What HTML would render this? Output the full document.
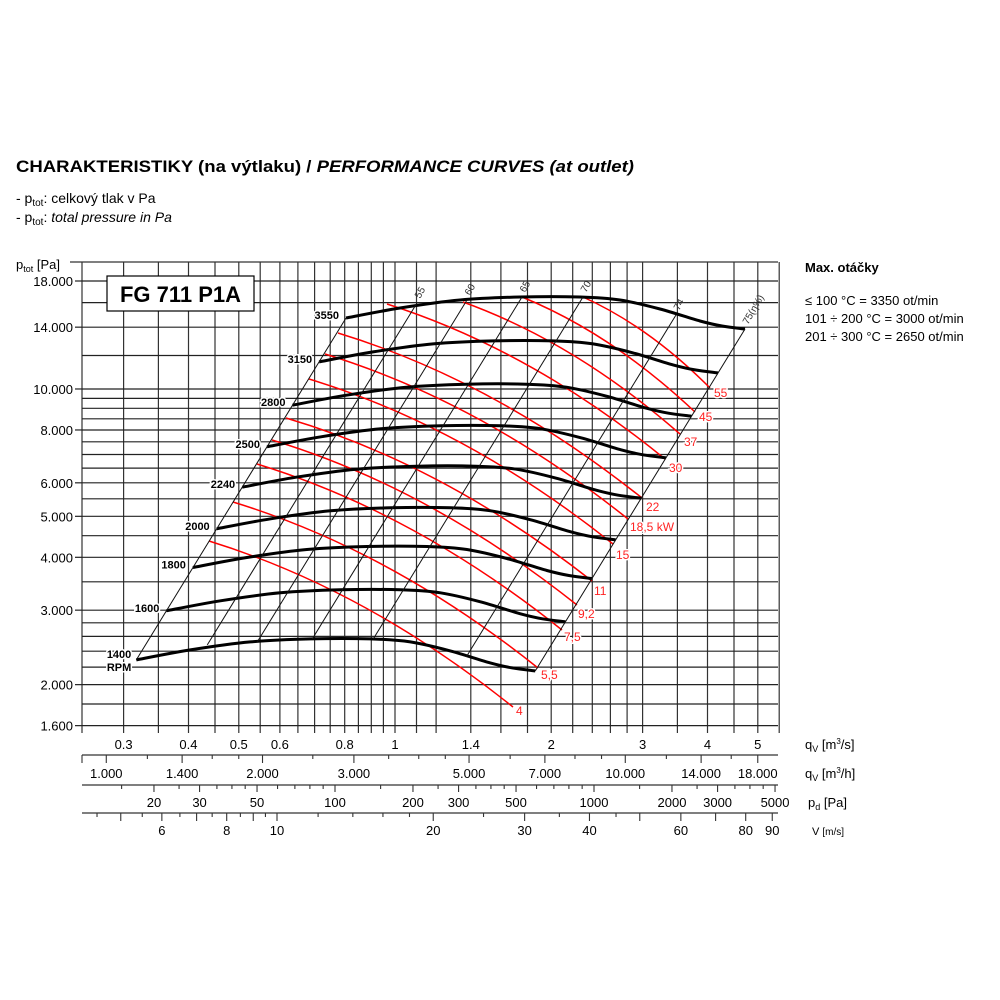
<!DOCTYPE html>
<html><head><meta charset="utf-8"><style>
html,body{margin:0;padding:0;background:#fff;}
svg{display:block;font-family:"Liberation Sans",Arial,sans-serif;}
</style></head><body>
<svg id="s" width="1000" height="1000" viewBox="0 0 1000 1000" xmlns="http://www.w3.org/2000/svg">
<rect width="1000" height="1000" fill="#fff"/>
<text x="16" y="172" font-size="17" font-weight="bold" textLength="618" lengthAdjust="spacingAndGlyphs">CHARAKTERISTIKY (na výtlaku) / <tspan font-style="italic">PERFORMANCE CURVES (at outlet)</tspan></text>
<text x="16" y="203" font-size="14">- p<tspan font-size="10" dy="3">tot</tspan><tspan dy="-3">: celkový tlak v Pa</tspan></text>
<text x="16" y="222" font-size="14">- p<tspan font-size="10" dy="3">tot</tspan><tspan dy="-3">: </tspan><tspan font-style="italic">total pressure in Pa</tspan></text>
<text x="16" y="269" font-size="13">p<tspan font-size="9" dy="3">tot</tspan><tspan dy="-3"> [Pa]</tspan></text>
<text x="805" y="272" font-size="13" font-weight="bold">Max. otáčky</text>
<text x="805" y="305" font-size="13">≤ 100 °C = 3350 ot/min</text>
<text x="805" y="323" font-size="13">101 ÷ 200 °C = 3000 ot/min</text>
<text x="805" y="341" font-size="13">201 ÷ 300 °C = 2650 ot/min</text>
<g id="g"></g>
</svg>
<script>
var g=document.getElementById('g'),h='';
function X(q){return 395+519*Math.log10(q);}
function Y(p){return 281+423*Math.log10(18000/p);}
function L(x1,y1,x2,y2,c,w){h+='<line x1="'+x1+'" y1="'+y1+'" x2="'+x2+'" y2="'+y2+'" stroke="'+(c||'#222')+'" stroke-width="'+(w||1)+'"/>';}
function T(x,y,s,sz,anc,ex){h+='<text x="'+x+'" y="'+y+'" font-size="'+sz+'" text-anchor="'+(anc||'middle')+'" '+(ex||'')+'>'+s+'</text>';}
// vertical grid
var qs=[];for(var q=0.3;q<1.001;q+=0.05)qs.push(+q.toFixed(2));
qs=qs.concat([1.1,1.2,1.4,1.6,1.8,2,2.2,2.4,2.6,2.8,3,3.5,4,4.5,5,5.5]);
qs.forEach(function(q){var x=X(q).toFixed(1);L(x,262,x,733,'#333',1.2);});
L(82,262,82,733,'#333',1.2);
// horizontal grid
var ps=[18000,16000,14000,12000,10000,9500,9000,8500,8000,7500,7000,6500,6000,5500,5000,4500,4000,3500,3000,2800,2600,2400,2200,2000,1800,1600];
ps.forEach(function(p){var y=Y(p).toFixed(1);L(82,y,778,y,'#222',1.2);});
L(70,262,778,262,'#333',1.2);
var lab=[[18000,'18.000'],[14000,'14.000'],[10000,'10.000'],[8000,'8.000'],[6000,'6.000'],[5000,'5.000'],[4000,'4.000'],[3000,'3.000'],[2000,'2.000'],[1600,'1.600']];
lab.forEach(function(a){var y=Y(a[0]);L(75,y,82,y,'#222',1.2);T(73,y+5,a[1],13,'end');});
// x labels m3/s
[[0.3,'0.3'],[0.4,'0.4'],[0.5,'0.5'],[0.6,'0.6'],[0.8,'0.8'],[1,'1'],[1.4,'1.4'],[2,'2'],[3,'3'],[4,'4'],[5,'5']].forEach(function(a){T(X(a[0]),749,a[1],13);});
// scale lines
L(82,755,778,755,'#333',1.3);L(82,785,778,785,'#333',1.3);L(82,813,778,813,'#333',1.3);
[1000,1200,1400,1600,1800,2000,2500,3000,3500,4000,4500,5000,6000,7000,8000,9000,10000,12000,14000,16000,18000].forEach(function(v){var x=X(v/3600);var big=[1000,1400,2000,3000,5000,7000,10000,14000,18000].indexOf(v)>=0;L(x,755,x,big?763:759,'#333',1.1);});
L(82,755,82,763,'#333',1.1);
[['1.000',1000],['1.400',1400],['2.000',2000],['3.000',3000],['5.000',5000],['7.000',7000],['10.000',10000],['14.000',14000],['18.000',18000]].forEach(function(a){T(X(a[1]/3600),778,a[0],13);});
function PX(p){return -183+259*Math.log10(p);}
[15,20,25,30,35,40,45,50,60,70,80,90,100,150,200,250,300,350,400,450,500,600,700,800,900,1000,1500,2000,2500,3000,3500,4000,4500,5000].forEach(function(p){var x=PX(p);if(x<82)return;var big=[20,30,50,100,200,300,500,1000,2000,3000,5000].indexOf(p)>=0;L(x,785,x,big?792:789,'#333',1.1);});
[20,30,50,100,200,300,500,1000,2000,3000,5000].forEach(function(p){T(PX(p),807,p,13);});
function VX(v){return 277+519*Math.log10(v/10);}
[4.5,5,5.5,6,6.5,7,7.5,8,8.5,9,9.5,10,12,14,16,18,20,25,30,35,40,45,50,60,70,80,90].forEach(function(v){var x=VX(v);if(x<82)return;var big=[5,6,7,8,9,10,20,30,40,50,60,70,80,90].indexOf(v)>=0;L(x,813,x,big?821:817,'#333',1.1);});
[6,8,10,20,30,40,60,80,90].forEach(function(v){T(VX(v),835,v,13);});
// unit labels
T(805,749,'q<tspan font-size="9" dy="3">V</tspan><tspan dy="-3"> [m<tspan font-size="8" dy="-5">3</tspan><tspan dy="5">/s]</tspan></tspan>',13,'start');
T(805,778,'q<tspan font-size="9" dy="3">V</tspan><tspan dy="-3"> [m<tspan font-size="8" dy="-5">3</tspan><tspan dy="5">/h]</tspan></tspan>',13,'start');
T(808,807,'p<tspan font-size="9" dy="3">d</tspan><tspan dy="-3"> [Pa]</tspan>',13,'start');
T(812,835,'V <tspan font-size="10">[m/s]</tspan>',11,'start');
// red power lines
var red=[[583,297,710,388,'55',714,397,'start'],[522,297,695,412,'45',699,421,'start'],[463,302,680,434,'37',684,446,'start'],[387,304,665,459,'30',669,472,'start'],[338,333,642,498,'22',646,511,'start'],[325,354,628,519,'18,5 kW',630,531,'start'],[309,379,613,544,'15',616,559,'start'],[286,418,592,581,'11',594,595,'start'],[272,440,577,605,'9,2',578,618,'start'],[257,464,562,630,'7,5',564,641,'start'],[233,502,538,668,'5,5',541,679,'start'],[209,541,513,707,'4',516,715,'start']];
var redLab='';
red.forEach(function(r){var dx=r[2]-r[0],dy=r[3]-r[1],len=Math.sqrt(dx*dx+dy*dy),o=0.1*len;
var mx=(r[0]+r[2])/2+o*dy/len*0.3,my=(r[1]+r[3])/2-o;
h+='<path d="M'+r[0]+','+r[1]+' Q'+mx+','+my+' '+r[2]+','+r[3]+'" fill="none" stroke="#f00" stroke-width="1.5"/>';
redLab+='<text x="'+r[5]+'" y="'+r[6]+'" font-size="12" fill="#f22" stroke="#fff" stroke-width="3" paint-order="stroke">'+r[4]+'</text>';});
// rpm curves
var base=[[346,318],[400,308],[460,300],[520,297],[580,297],[620,300],[660,309],[700,321],[722,326],[745,329]];
function path(pts){var d='M'+pts[0][0]+','+pts[0][1];for(var i=0;i<pts.length-1;i++){var p0=pts[i-1]||pts[i],p1=pts[i],p2=pts[i+1],p3=pts[i+2]||p2;
d+=' C'+(p1[0]+(p2[0]-p0[0])/6).toFixed(1)+','+(p1[1]+(p2[1]-p0[1])/6).toFixed(1)+' '+(p2[0]-(p3[0]-p1[0])/6).toFixed(1)+','+(p2[1]-(p3[1]-p1[1])/6).toFixed(1)+' '+p2[0]+','+p2[1];}return d;}
var rpms=[3550,3150,2800,2500,2240,2000,1800,1600,1400],rl='';
function sh(n){var k=Math.log10(n/3550);return [519*k,-846*k];}
rpms.forEach(function(n){var s=sh(n);var pts=base.map(function(p){return [+(p[0]+s[0]).toFixed(1),+(p[1]+s[1]).toFixed(1)];});
h+='<path d="'+path(pts)+'" fill="none" stroke="#000" stroke-width="3"/>';
var x0=pts[0][0],y0=pts[0][1];
if(n==1400){rl+='<text x="'+(x0-5)+'" y="'+(y0-2)+'" font-size="11" font-weight="bold" text-anchor="end" stroke="#fff" stroke-width="3" paint-order="stroke">1400</text><text x="'+(x0-5)+'" y="'+(y0+11)+'" font-size="11" font-weight="bold" text-anchor="end" stroke="#fff" stroke-width="3" paint-order="stroke">RPM</text>';}
else rl+='<text x="'+(x0-7)+'" y="'+(y0+1)+'" font-size="11" font-weight="bold" text-anchor="end" stroke="#fff" stroke-width="3" paint-order="stroke">'+n+'</text>';});
// efficiency lines
var s14=sh(1400);
var eff=[[346,318,''],[417,303,'55'],[467,300,'60'],[522,297,'65'],[583,297,'70'],[676,315,'74'],[745,329,'75(η%)']];
eff.forEach(function(e){L(e[0],e[1],(e[0]+s14[0]).toFixed(1),(e[1]+s14[1]).toFixed(1),'#111',1);
if(e[2])rl+='<text x="'+(e[0]+3)+'" y="'+(e[1]-4)+'" font-size="10" fill="#333" transform="rotate(-60 '+(e[0]+3)+' '+(e[1]-4)+')">'+e[2]+'</text>';});
h+=rl+redLab;
// title box
h+='<rect x="107" y="276" width="147" height="35" fill="#fff" stroke="#000" stroke-width="1.2"/>';
h+='<text x="180.5" y="302" font-size="22" font-weight="bold" text-anchor="middle">FG 711 P1A</text>';
g.innerHTML=h;
</script>
</body></html>
